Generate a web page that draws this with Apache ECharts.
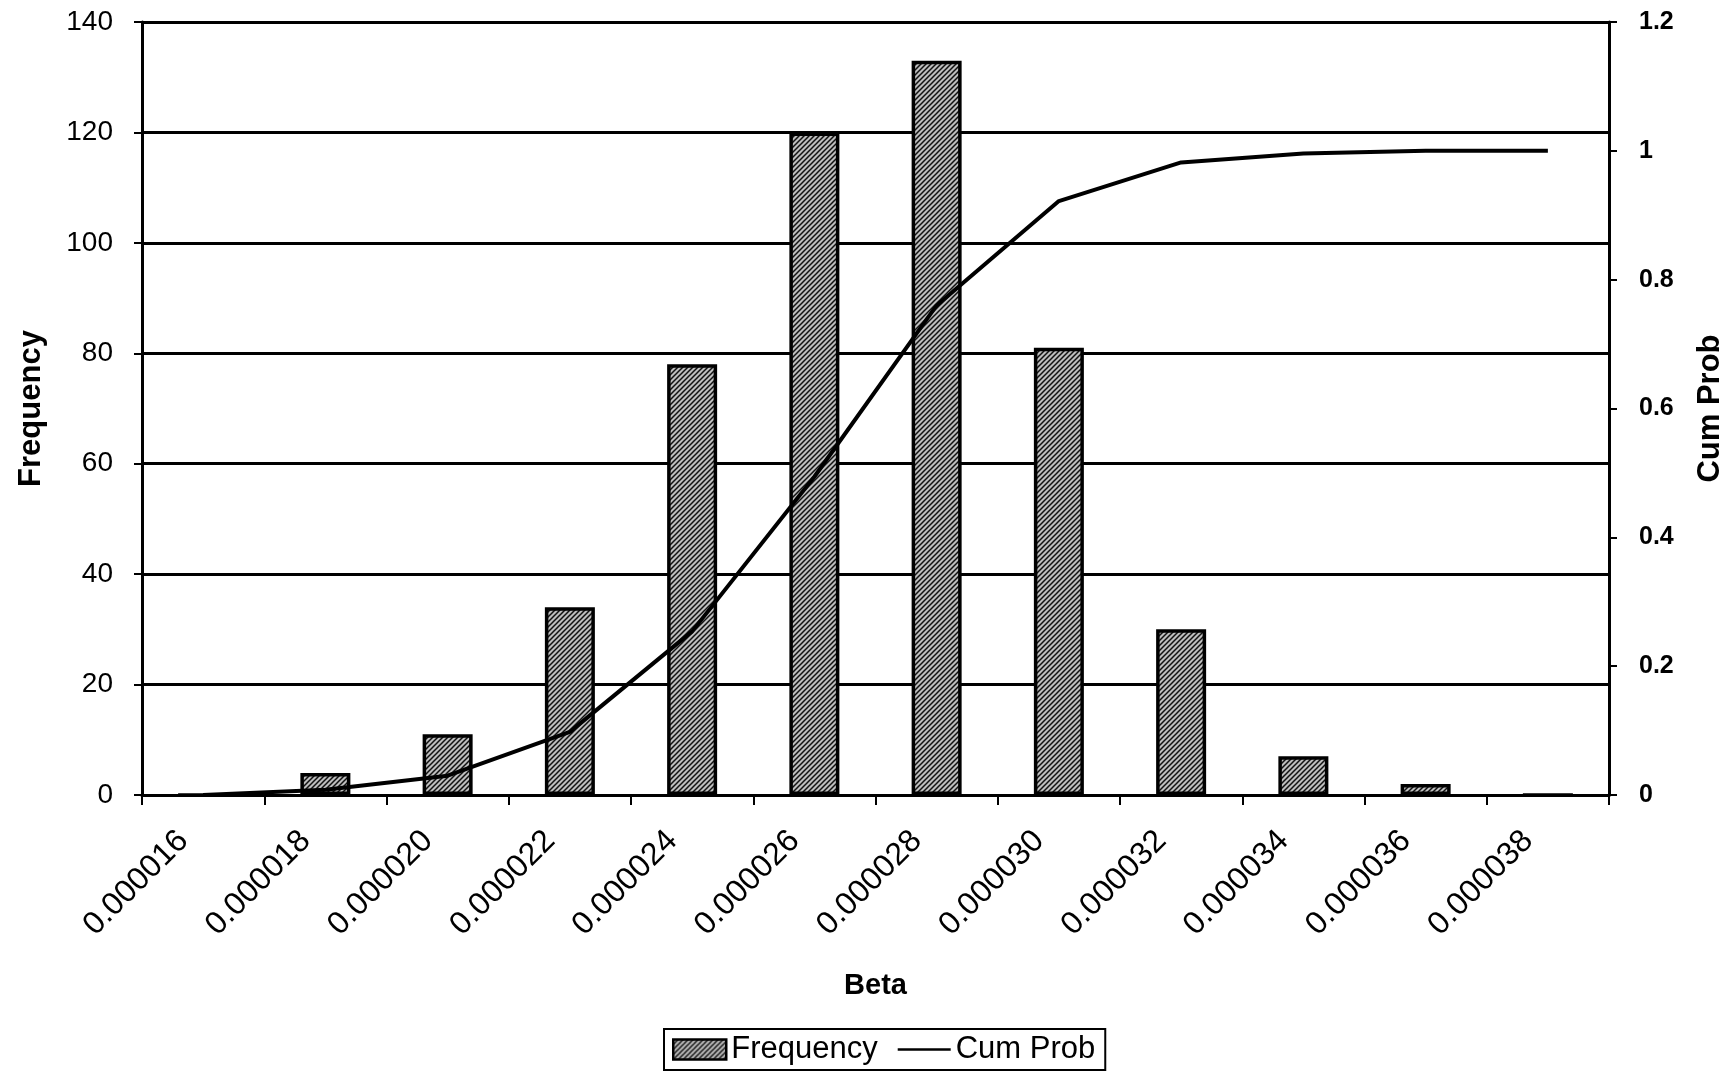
<!DOCTYPE html>
<html>
<head>
<meta charset="utf-8">
<script src="https://cdn.jsdelivr.net/npm/echarts@6/dist/echarts.min.js"></script>
<style>
  html, body { margin: 0; padding: 0; background: #fff; }
  #chart { width: 1734px; height: 1075px; }
</style>
</head>
<body>
<div id="chart"></div>
<script>
// Beta bins (category labels on the x axis)
const betaBins = ['0.000016', '0.000018', '0.000020', '0.000022', '0.000024', '0.000026',
                  '0.000028', '0.000030', '0.000032', '0.000034', '0.000036', '0.000038'];
// Count of samples in each bin
const frequency = [0, 4, 11, 34, 78, 120, 133, 81, 30, 7, 2, 0];
// Cumulative probability at each bin
const cumProb = [0, 0.008, 0.03, 0.098, 0.254, 0.494, 0.76, 0.922, 0.982, 0.996, 1, 1];

const FONT = '"Liberation Sans", Arial, sans-serif';

// Small tile with diagonal hatching used to fill the bars
function makeHatch() {
  const s = 5;
  const c = document.createElement('canvas');
  c.width = s; c.height = s;
  const g = c.getContext('2d');
  g.fillStyle = '#bdbdbd';
  g.fillRect(0, 0, s, s);
  g.strokeStyle = '#111';
  g.lineWidth = 1.5;
  g.beginPath();
  g.moveTo(0, s); g.lineTo(s, 0);
  g.moveTo(-s / 2, s / 2); g.lineTo(s / 2, -s / 2);
  g.moveTo(s / 2, s * 1.5); g.lineTo(s * 1.5, s / 2);
  g.stroke();
  return c;
}
const hatch = { image: makeHatch(), repeat: 'repeat' };

const chart = echarts.init(document.getElementById('chart'), null, { renderer: 'canvas' });

const axisLine = { show: true, lineStyle: { color: '#000', width: 3 } };
const axisTick = { show: true, inside: false, length: 8, lineStyle: { color: '#000', width: 2 } };

chart.setOption({
  animation: false,
  backgroundColor: '#fff',
  textStyle: { fontFamily: FONT, color: '#000' },
  grid: { left: 142, right: 114, top: 22, bottom: 280, containLabel: false },
  legend: {
    left: 664,
    top: 1029,
    padding: [5, 10, 5, 8],
    itemGap: 20,
    itemWidth: 53,
    itemHeight: 20,
    borderColor: '#000',
    borderWidth: 2,
    backgroundColor: '#fff',
    textStyle: { fontFamily: FONT, fontSize: 31, color: '#000' },
    data: [
      { name: 'Frequency', icon: 'rect', itemStyle: { color: hatch, borderColor: '#000', borderWidth: 2.5 } },
      { name: 'Cum Prob', icon: 'path://M0,0 L60,0 L60,3 L0,3 Z', itemStyle: { color: '#000', borderWidth: 0 } }
    ]
  },
  xAxis: {
    type: 'category',
    data: betaBins,
    boundaryGap: true,
    name: 'Beta',
    nameLocation: 'middle',
    nameGap: 176,
    nameTextStyle: { fontFamily: FONT, fontSize: 29, fontWeight: 'bold', color: '#000' },
    axisLine: axisLine,
    axisTick: Object.assign({}, axisTick, { length: 10 }),
    axisLabel: {
      rotate: 45,
      margin: 21,
      interval: 0,
      padding: [0, 28, 0, 0],
      fontFamily: FONT,
      fontSize: 32,
      color: '#000'
    },
    splitLine: { show: false }
  },
  yAxis: [
    {
      type: 'value',
      min: 0,
      max: 140,
      interval: 20,
      position: 'left',
      name: 'Frequency',
      nameLocation: 'middle',
      nameRotate: 90,
      nameGap: 95,
      nameTextStyle: { fontFamily: FONT, fontSize: 31, fontWeight: 'bold', color: '#000' },
      axisLine: axisLine,
      axisTick: axisTick,
      axisLabel: { fontFamily: FONT, fontSize: 28, color: '#000', margin: 29 },
      splitLine: { show: true, lineStyle: { color: '#000', width: 3 } }
    },
    {
      type: 'value',
      min: 0,
      max: 1.2,
      interval: 0.2,
      position: 'right',
      name: 'Cum Prob',
      nameLocation: 'middle',
      nameRotate: 90,
      nameGap: 86,
      nameTextStyle: { fontFamily: FONT, fontSize: 31, fontWeight: 'bold', color: '#000' },
      axisLine: axisLine,
      axisTick: axisTick,
      axisLabel: { fontFamily: FONT, fontSize: 25, fontWeight: 'bold', color: '#000', margin: 30 },
      splitLine: { show: false }
    }
  ],
  series: [
    {
      name: 'Frequency',
      type: 'bar',
      yAxisIndex: 0,
      data: frequency,
      barWidth: 50,
      itemStyle: { color: hatch, borderColor: '#000', borderWidth: 3.5 },
      z: 2
    },
    {
      name: 'Cum Prob',
      type: 'line',
      yAxisIndex: 1,
      data: cumProb,
      symbol: 'none',
      showSymbol: false,
      smooth: false,
      lineStyle: { color: '#000', width: 4 },
      itemStyle: { color: '#000' },
      z: 3
    }
  ]
});
</script>
</body>
</html>
